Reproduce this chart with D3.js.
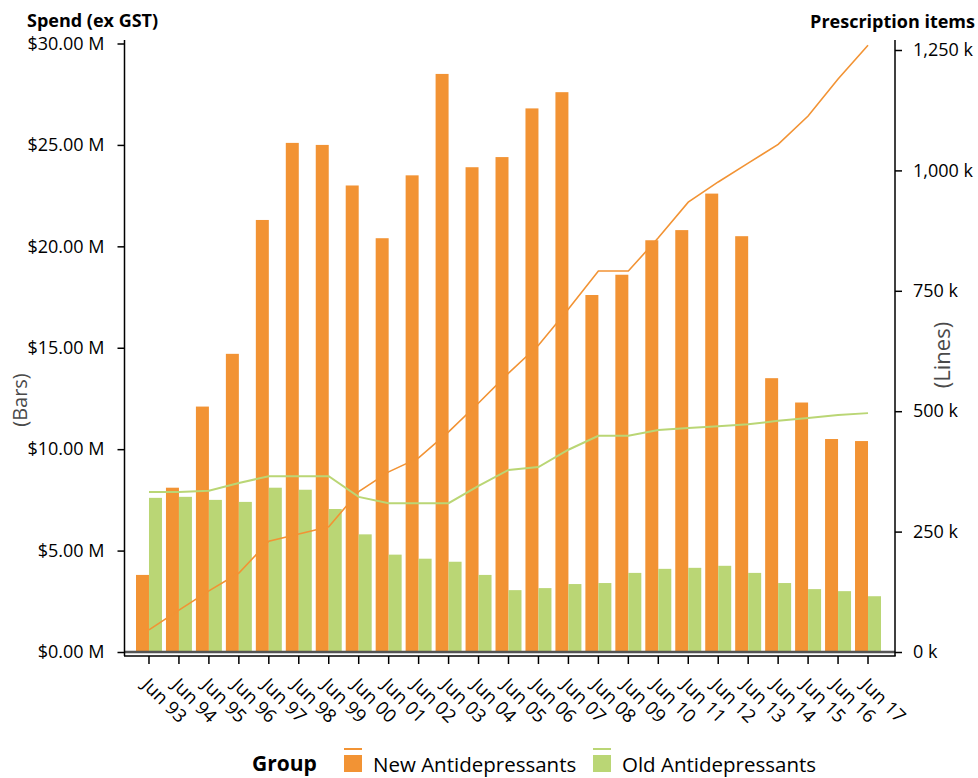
<!DOCTYPE html>
<html><head><meta charset="utf-8">
<script src="https://cdn.jsdelivr.net/npm/d3@7"></script>
<style>body{margin:0;background:#fff}svg{display:block}text{font-family:"Open Sans",sans-serif}</style>
</head><body>
<svg id="c" width="978" height="778"></svg>
<script>
const categories = ["Jun 93","Jun 94","Jun 95","Jun 96","Jun 97","Jun 98","Jun 99","Jun 00","Jun 01","Jun 02","Jun 03","Jun 04","Jun 05","Jun 06","Jun 07","Jun 08","Jun 09","Jun 10","Jun 11","Jun 12","Jun 13","Jun 14","Jun 15","Jun 16","Jun 17"];
// Spend (ex GST), $M
const newSpend = [3.8,8.1,12.1,14.7,21.3,25.1,25.0,23.0,20.4,23.5,28.5,23.9,24.4,26.8,27.6,17.6,18.6,20.3,20.8,22.6,20.5,13.5,12.3,10.5,10.4];
const oldSpend = [7.6,7.65,7.5,7.4,8.1,8.0,7.05,5.8,4.8,4.6,4.45,3.8,3.05,3.15,3.35,3.4,3.9,4.1,4.15,4.25,3.9,3.4,3.1,3.0,2.75];
// Prescription items, thousands
const newItems = [46,87,127,164,230,245,260,333,374,403,457,517,579,637,712,791,791,860,934,976,1015,1054,1113,1190,1260];
const oldItems = [332,332,335,351,365,365,365,322,309,309,309,345,378,384,420,449,449,461,465,469,473,480,486,492,496];
const leftTicks = [0,5,10,15,20,25,30];
const rightTicks = [0,250,500,750,1000,1250];
const seriesNames = ["New Antidepressants","Old Antidepressants"];
const colors = ["#F29334","#BAD675"];

const svg = d3.select("#c");
const x = d3.scaleBand().domain(categories).range([134,883]).paddingInner(0.133).paddingOuter(0.0667);
const xs = d3.scaleBand().domain([0,1]).range([0,x.bandwidth()]);
const yL = d3.scaleLinear().domain([0,30]).range([652,43.5]);
const yR = d3.scaleLinear().domain([0,1250]).range([652,50]);

// bars
const g = svg.append("g");
[newSpend, oldSpend].forEach((arr,si)=>{
  g.selectAll(null).data(arr).enter().append("rect")
    .attr("x",(d,i)=>x(categories[i])+xs(si))
    .attr("width",xs.bandwidth())
    .attr("y",d=>yL(d))
    .attr("height",d=>yL(0)-yL(d))
    .attr("fill",colors[si]);
});
// zero line
svg.append("line").attr("x1",124).attr("x2",895).attr("y1",yL(0)).attr("y2",yL(0))
  .attr("stroke","#555").attr("stroke-width",2.5);

// lines
const line = d3.line().x((d,i)=>x(categories[i])+x.bandwidth()/2).y(d=>yR(d));
[newItems, oldItems].forEach((arr,si)=>{
  svg.append("path").datum(arr).attr("d",line).attr("fill","none")
    .attr("stroke",colors[si]).attr("stroke-width",si===0?1.6:2);
});

// axes
const axisY = 656;
const axL = svg.append("g").attr("transform","translate(124.5,0)")
  .call(d3.axisLeft(yL).tickValues(leftTicks).tickSize(7).tickPadding(13).tickFormat(d=>"$"+d.toFixed(2)+" M"));
const axR = svg.append("g").attr("transform","translate(895,0)")
  .call(d3.axisRight(yR).tickValues(rightTicks).tickSize(7).tickPadding(11).tickFormat(d=>d3.format(",")(d)+" k"));
[axL,axR].forEach(a=>{
  a.select(".domain").remove();
  a.selectAll("line").attr("stroke","#000").attr("stroke-width",1.5);
  a.selectAll("text").attr("font-size",18).attr("fill","#000").attr("font-family","Open Sans");
});
svg.append("line").attr("x1",124.5).attr("x2",124.5).attr("y1",40).attr("y2",axisY).attr("stroke","#000").attr("stroke-width",1.5);
svg.append("line").attr("x1",895).attr("x2",895).attr("y1",40).attr("y2",axisY).attr("stroke","#000").attr("stroke-width",1.5);
svg.append("line").attr("x1",124).attr("x2",895.7).attr("y1",axisY).attr("y2",axisY).attr("stroke","#000").attr("stroke-width",1.5);

const axB = svg.append("g").attr("transform",`translate(0,${axisY})`)
  .call(d3.axisBottom(x).tickSize(8).tickSizeOuter(0));
axB.select(".domain").remove();
axB.selectAll("line").attr("stroke","#000").attr("stroke-width",1.5);
axB.selectAll("text").attr("font-size",18.5).attr("fill","#000")
  .attr("text-anchor","start").attr("dy",null).attr("y",0)
  .attr("transform","translate(-8,30) rotate(45)");

// titles
svg.append("text").attr("x",27).attr("y",27).attr("font-size",18).attr("font-weight","bold").text("Spend (ex GST)");
svg.append("text").attr("x",975).attr("y",28).attr("font-size",18).attr("font-weight","bold").attr("text-anchor","end").text("Prescription items");
svg.append("text").attr("transform","translate(27,400) rotate(-90)").attr("text-anchor","middle").attr("font-size",20).attr("fill","#4a4a4a").text("(Bars)");
svg.append("text").attr("transform","translate(950,355) rotate(-90)").attr("text-anchor","middle").attr("font-size",22).attr("fill","#4a4a4a").text("(Lines)");

// legend
svg.append("text").attr("x",252).attr("y",771).attr("font-size",21).attr("font-weight","bold").text("Group");
const legX = [344,593];
seriesNames.forEach((n,i)=>{
  svg.append("rect").attr("x",legX[i]).attr("y",755).attr("width",18).attr("height",17).attr("fill",colors[i]);
  svg.append("line").attr("x1",legX[i]).attr("x2",legX[i]+18).attr("y1",749).attr("y2",749).attr("stroke",colors[i]).attr("stroke-width",2);
  svg.append("text").attr("x",legX[i]+29).attr("y",772).attr("font-size",20.5).text(n);
});
</script>
</body></html>
